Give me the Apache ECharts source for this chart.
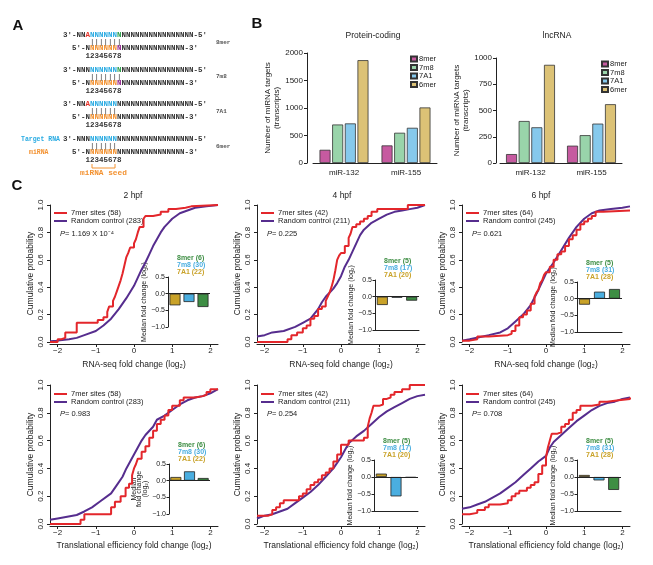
<!DOCTYPE html>
<html>
<head>
<meta charset="utf-8">
<title>miRNA seed sites</title>
</head>
<body style="margin:0;padding:0;background:#fff;">
<div id="main" style="width:653px;height:565px;"></div>
<script src="https://cdn.jsdelivr.net/npm/echarts@6.0.0/dist/echarts.min.js"></script>
<script>
// ---- data ----
var siteTypes = ['8mer', '7m8', '7A1', '6mer'];
var mirnas = ['miR-132', 'miR-155'];

// panel B, number of targets per miRNA
var coding8mer = [240, 320];
var coding7m8 = [700, 550];
var coding7A1 = [720, 640];
var coding6mer = [1870, 1010];
var lnc8mer = [85, 165];
var lnc7m8 = [400, 265];
var lnc7A1 = [340, 375];
var lnc6mer = [935, 560];

// panel C, cumulative curves [log2 fold change, cumulative probability]
var rna2Sites = [[-2.2,0],[-2.0,0.02],[-1.9,0.03],[-1.8,0.07],[-1.5,0.14],[-0.95,0.16],[-0.8,0.18],[-0.7,0.22],[-0.65,0.26],[-0.55,0.3],[-0.5,0.33],[-0.45,0.37],[-0.4,0.41],[-0.35,0.45],[-0.3,0.5],[-0.25,0.56],[-0.2,0.62],[-0.15,0.65],[-0.1,0.69],[0.0,0.72],[0.05,0.75],[0.1,0.8],[0.15,0.84],[0.25,0.9],[0.3,0.92],[0.5,0.93],[0.7,0.95],[0.9,0.97],[1.1,0.98],[1.35,0.99],[1.5,1.0],[2.2,1.0]];
var rna2Random = [[-2.2,0.005],[-2.0,0.01],[-1.7,0.02],[-1.5,0.03],[-1.3,0.05],[-1.0,0.08],[-0.8,0.12],[-0.6,0.17],[-0.4,0.24],[-0.2,0.32],[0.0,0.41],[0.1,0.47],[0.2,0.53],[0.3,0.58],[0.4,0.64],[0.5,0.7],[0.6,0.75],[0.7,0.8],[0.8,0.84],[0.9,0.87],[1.0,0.9],[1.2,0.94],[1.4,0.96],[1.6,0.98],[1.9,0.99],[2.2,1.0]];
var rna4Sites = [[-2.2,0],[-1.4,0.02],[-1.3,0.05],[-1.15,0.07],[-1.0,0.1],[-0.9,0.12],[-0.8,0.17],[-0.7,0.19],[-0.6,0.24],[-0.5,0.26],[-0.4,0.3],[-0.35,0.33],[-0.3,0.36],[-0.25,0.4],[-0.2,0.45],[-0.15,0.52],[-0.1,0.6],[-0.05,0.63],[0.0,0.65],[0.1,0.7],[0.2,0.76],[0.25,0.79],[0.3,0.84],[0.4,0.86],[0.5,0.88],[0.6,0.9],[0.7,0.92],[0.8,0.95],[0.95,0.97],[1.75,1.0],[2.2,1.0]];
var rna4Random = [[-2.2,0.04],[-2.0,0.05],[-1.8,0.07],[-1.5,0.08],[-1.2,0.11],[-1.0,0.14],[-0.8,0.17],[-0.6,0.24],[-0.5,0.29],[-0.4,0.33],[-0.2,0.39],[-0.1,0.43],[0.0,0.48],[0.1,0.55],[0.2,0.6],[0.3,0.66],[0.4,0.72],[0.5,0.78],[0.6,0.82],[0.8,0.87],[1.0,0.9],[1.2,0.93],[1.4,0.95],[1.6,0.96],[1.8,0.97],[2.0,0.98],[2.2,1.0]];
var rna6Sites = [[-2.2,0.01],[-2.0,0.02],[-1.8,0.04],[-1.5,0.05],[-1.0,0.06],[-0.9,0.08],[-0.8,0.12],[-0.7,0.18],[-0.6,0.2],[-0.5,0.23],[-0.4,0.28],[-0.3,0.33],[-0.25,0.36],[-0.2,0.38],[-0.15,0.43],[-0.1,0.45],[-0.05,0.49],[0.0,0.51],[0.1,0.55],[0.2,0.6],[0.3,0.64],[0.4,0.66],[0.5,0.7],[0.6,0.75],[0.7,0.78],[0.8,0.82],[0.9,0.86],[1.0,0.88],[1.1,0.9],[1.2,0.92],[1.3,0.95],[1.5,0.96],[2.2,0.96]];
var rna6Random = [[-2.2,0.01],[-2.0,0.02],[-1.5,0.05],[-1.2,0.07],[-1.0,0.1],[-0.8,0.15],[-0.6,0.2],[-0.4,0.27],[-0.2,0.38],[0.0,0.5],[0.2,0.58],[0.4,0.67],[0.6,0.76],[0.8,0.84],[1.0,0.9],[1.2,0.94],[1.4,0.96],[1.7,0.97],[2.0,0.98],[2.2,0.99]];
var te2Sites = [[-2.2,0],[-1.4,0.03],[-1.3,0.07],[-0.6,0.12],[-0.5,0.16],[-0.35,0.2],[-0.22,0.26],[-0.13,0.29],[-0.05,0.35],[0.0,0.4],[0.05,0.43],[0.1,0.47],[0.2,0.52],[0.3,0.56],[0.4,0.62],[0.5,0.67],[0.6,0.72],[0.7,0.75],[0.8,0.78],[0.9,0.82],[1.0,0.85],[1.2,0.89],[1.3,0.91],[1.6,0.92],[1.8,0.93],[1.9,0.95],[2.0,0.97],[2.2,0.97]];
var te2Random = [[-2.2,0.03],[-2.0,0.04],[-1.5,0.065],[-1.3,0.09],[-1.1,0.12],[-0.9,0.16],[-0.6,0.22],[-0.45,0.28],[-0.3,0.34],[-0.2,0.4],[-0.1,0.45],[0.0,0.5],[0.1,0.55],[0.2,0.6],[0.3,0.64],[0.5,0.7],[0.6,0.75],[0.8,0.78],[1.0,0.82],[1.2,0.86],[1.4,0.89],[1.6,0.91],[1.8,0.92],[2.0,0.94],[2.2,0.97]];
var te4Sites = [[-2.2,0.06],[-1.9,0.07],[-1.8,0.1],[-1.7,0.12],[-1.6,0.15],[-1.5,0.17],[-1.1,0.2],[-1.0,0.22],[-0.9,0.25],[-0.8,0.28],[-0.7,0.3],[-0.6,0.32],[-0.5,0.35],[-0.4,0.37],[-0.3,0.4],[-0.2,0.45],[-0.1,0.5],[0.0,0.57],[0.2,0.6],[0.6,0.62],[0.7,0.7],[0.75,0.76],[0.8,0.8],[0.85,0.85],[1.0,0.86],[1.1,0.9],[1.2,0.91],[1.3,0.93],[1.4,0.95],[1.6,0.97],[1.8,1.0],[2.2,1.0]];
var te4Random = [[-2.2,0.04],[-2.0,0.06],[-1.8,0.07],[-1.6,0.09],[-1.4,0.11],[-1.2,0.15],[-1.0,0.19],[-0.8,0.23],[-0.6,0.28],[-0.4,0.34],[-0.2,0.4],[0.0,0.48],[0.1,0.53],[0.2,0.58],[0.4,0.63],[0.6,0.67],[0.8,0.72],[1.0,0.77],[1.2,0.81],[1.4,0.84],[1.6,0.87],[1.8,0.9],[2.0,0.92],[2.2,0.93]];
var te6Sites = [[-2.2,0.07],[-2.0,0.08],[-1.8,0.1],[-1.6,0.12],[-1.5,0.14],[-1.2,0.15],[-1.0,0.17],[-0.9,0.2],[-0.8,0.22],[-0.7,0.24],[-0.5,0.26],[-0.4,0.28],[-0.3,0.3],[-0.2,0.36],[-0.1,0.42],[0.0,0.48],[0.05,0.55],[0.1,0.6],[0.15,0.65],[0.3,0.66],[0.4,0.7],[0.5,0.72],[0.6,0.75],[0.7,0.8],[0.8,0.82],[0.9,0.85],[1.2,0.86],[1.4,0.88],[1.6,0.89],[1.9,0.9],[2.2,0.91]];
var te6Random = [[-2.2,0.11],[-2.0,0.12],[-1.8,0.14],[-1.6,0.16],[-1.4,0.19],[-1.2,0.22],[-1.0,0.26],[-0.8,0.3],[-0.6,0.35],[-0.4,0.4],[-0.2,0.45],[0.0,0.49],[0.1,0.55],[0.2,0.59],[0.4,0.64],[0.6,0.69],[0.8,0.74],[1.0,0.78],[1.2,0.82],[1.4,0.85],[1.6,0.87],[1.8,0.88],[2.0,0.9],[2.2,0.91]];

// insets: median fold change, order 7A1, 7m8, 8mer
var insetTypes = ['7A1', '7m8', '8mer'];
var rnaMedian2 = [-0.35, -0.25, -0.4];
var rnaMedian4 = [-0.25, -0.03, -0.12];
var rnaMedian6 = [-0.18, 0.21, 0.29];
var teMedian2 = [0.11, 0.28, 0.08];
var teMedian4 = [0.1, -0.57, -0.02];
var teMedian6 = [0.06, -0.1, -0.38];

var stages = ['2 hpf', '4 hpf', '6 hpf'];
var sitesCount = [58, 42, 64];
var randomCount = [283, 211, 245];
var count8mer = [6, 5, 5];
var count7m8 = [30, 17, 31];
var count7A1 = [22, 20, 28];
var pRna = ['1.169 X 10\u207B\u2074', '0.225', '0.621'];
var pTe = ['0.983', '0.254', '0.708'];
var xTicks = [-2, -1, 0, 1, 2];

// ---- styles ----
var ink = '#222';
var sans = '"Liberation Sans", Arial, sans-serif';
var mono = '"Liberation Mono", "DejaVu Sans Mono", monospace';
var barColors = {'8mer': '#c65aa0', '7m8': '#99d4aa', '7A1': '#86c9ec', '6mer': '#dcc276'};
var insetColors = {'7A1': '#c9a228', '7m8': '#4aaee0', '8mer': '#3e8e44'};
var redLine = '#e3262b';
var purpleLine = '#562d8e';

var myChart = echarts.init(document.getElementById('main'));

var grids = [];
var xAxes = [];
var yAxes = [];
var series = [];
var graphics = [];

function txt(x, y, text, font, color, align, extra) {
    var st = {text: text, font: font, fill: color || ink,
        align: align || 'left', textAlign: align || 'left',
        verticalAlign: 'middle', textVerticalAlign: 'middle'};
    if (extra) { for (var k in extra) st[k] = extra[k]; }
    graphics.push({type: 'text', x: x, y: y, silent: true, style: st});
}

// ---- panel B ----
var bPanels = [
    {title: 'Protein-coding', tx: 373, left: 313, top: 53, width: 124, height: 110, max: 2000, interval: 500, offset: 6, nameGap: 17, legendLeft: 410,
     data: [coding8mer, coding7m8, coding7A1, coding6mer]},
    {title: 'lncRNA', tx: 557, left: 500, top: 58, width: 122, height: 105, max: 1000, interval: 250, offset: 4, nameGap: 22, legendLeft: 601,
     data: [lnc8mer, lnc7m8, lnc7A1, lnc6mer]}
];
var legends = [];
bPanels.forEach(function (b, i) {
    grids.push({left: b.left, top: b.top, width: b.width, height: b.height, outerBoundsMode: 'none'});
    xAxes.push({type: 'category', gridIndex: i, data: mirnas,
        axisLine: {lineStyle: {color: ink, width: 1}}, axisTick: {show: false},
        axisLabel: {fontSize: 8, color: ink, margin: 6, fontFamily: sans}});
    yAxes.push({type: 'value', gridIndex: i, min: 0, max: b.max, interval: b.interval, offset: b.offset,
        axisLine: {show: true, lineStyle: {color: ink, width: 1}},
        axisTick: {show: true, length: 3, lineStyle: {color: ink}},
        axisLabel: {fontSize: 8, color: ink, margin: 4, fontFamily: sans,
            formatter: function (v) { return String(v); }},
        splitLine: {show: false},
        name: 'Number of miRNA targets\n(transcripts)', nameLocation: 'middle', nameGap: b.nameGap,
        nameTextStyle: {fontSize: 8, lineHeight: 9, color: ink, fontFamily: sans}});
    siteTypes.forEach(function (t, j) {
        series.push({type: 'bar', name: t, xAxisIndex: i, yAxisIndex: i, data: b.data[j],
            barWidth: 11, barGap: '15%',
            itemStyle: {color: barColors[t], borderColor: '#333', borderWidth: 0.8}});
    });
    legends.push({data: siteTypes, orient: 'vertical', left: b.legendLeft, top: b.top + 2, padding: 0,
        itemWidth: 6, itemHeight: 5, itemGap: 0.5, icon: 'rect', selectedMode: false,
        textStyle: {fontSize: 7.5, lineHeight: 6, color: ink, fontFamily: sans, padding: [0, 0, 0, -3]}});
    txt(b.tx, 36, b.title, '8.5px ' + sans, ink, 'center');
});

// ---- panel C ----
var cPanels = [
    {sites: rna2Sites, random: rna2Random, median: rnaMedian2, p: pRna[0]},
    {sites: rna4Sites, random: rna4Random, median: rnaMedian4, p: pRna[1]},
    {sites: rna6Sites, random: rna6Random, median: rnaMedian6, p: pRna[2]},
    {sites: te2Sites, random: te2Random, median: teMedian2, p: pTe[0]},
    {sites: te4Sites, random: te4Random, median: teMedian4, p: pTe[1]},
    {sites: te6Sites, random: te6Random, median: teMedian6, p: pTe[2]}
];
var colLeft = [50, 257, 462];
var rowTop = [205, 385];
var rowHeight = [137, 139];
var titleX = [133, 342, 541];
var xNames = ['RNA-seq fold change (log\u2082)', 'Translational efficiency fold change (log\u2082)'];
// inset boxes: left, top, width, height
var insetBox = [[168, 277, 42, 50], [375, 280, 44, 50], [577, 282, 45, 50],
                [169, 464, 41, 50], [374, 460, 44, 51], [577, 460, 44, 51]];
var insetBottomLine = [false, true, true, false, true, true];

cPanels.forEach(function (c, p) {
    var row = p < 3 ? 0 : 1, col = p % 3;
    var gl = colLeft[col], gt = rowTop[row];
    var gi = grids.length;
    grids.push({left: gl, top: gt, width: 168, height: rowHeight[row], outerBoundsMode: 'none'});
    xAxes.push({type: 'value', gridIndex: gi, min: -2.2, max: 2.2, offset: 2,
        axisLine: {show: true, onZero: false, lineStyle: {color: ink, width: 1}},
        axisTick: {show: true, length: 3, customValues: xTicks, lineStyle: {color: ink}},
        axisLabel: {customValues: xTicks, fontSize: 8, color: ink, margin: 3, fontFamily: sans,
            formatter: function (v) { return v < 0 ? '\u2212' + (-v) : String(v); }},
        splitLine: {show: false},
        name: xNames[row], nameLocation: 'middle', nameGap: row === 0 ? 16 : 15,
        nameTextStyle: {fontSize: 8.5, color: ink, fontFamily: sans}});
    yAxes.push({type: 'value', gridIndex: gi, min: 0, max: 1, interval: 0.2,
        axisLine: {show: true, onZero: false, lineStyle: {color: ink, width: 1}},
        axisTick: {show: true, length: 3, lineStyle: {color: ink}},
        axisLabel: {rotate: 90, fontSize: 8, color: ink, margin: 5, fontFamily: sans,
            formatter: function (v) { return v.toFixed(1); }},
        splitLine: {show: false},
        name: 'Cumulative probability', nameLocation: 'middle', nameGap: 15,
        nameTextStyle: {fontSize: 8.5, color: ink, fontFamily: sans}});
    series.push({type: 'line', name: 'random', xAxisIndex: gi, yAxisIndex: gi, data: c.random,
        symbol: 'none', lineStyle: {color: purpleLine, width: 2}, z: 2});
    series.push({type: 'line', name: 'sites', xAxisIndex: gi, yAxisIndex: gi, data: c.sites, step: 'end',
        symbol: 'none', lineStyle: {color: redLine, width: 2}, z: 3});

    if (row === 0) txt(titleX[col], 196, stages[col], '8.5px ' + sans, ink, 'center');

    // legend and p-value
    var ly = gt + (row === 0 ? 8 : 9);
    graphics.push({type: 'line', silent: true, shape: {x1: gl + 4, y1: ly, x2: gl + 17, y2: ly}, style: {stroke: redLine, lineWidth: 2}});
    graphics.push({type: 'line', silent: true, shape: {x1: gl + 4, y1: ly + 8, x2: gl + 17, y2: ly + 8}, style: {stroke: purpleLine, lineWidth: 2}});
    txt(gl + 21, ly, '7mer sites (' + sitesCount[col] + ')', '7.5px ' + sans);
    txt(gl + 21, ly + 8, 'Random control (' + randomCount[col] + ')', '7.5px ' + sans);
    txt(gl + 10, gt + 29, '{i|P}= ' + c.p, '7.5px ' + sans, ink, 'left',
        {rich: {i: {fontStyle: 'italic', font: 'italic 7.5px ' + sans, fill: ink}}});

    // inset
    var b = insetBox[p];
    var ii = grids.length;
    grids.push({left: b[0], top: b[1], width: b[2], height: b[3], outerBoundsMode: 'none'});
    xAxes.push({type: 'category', gridIndex: ii, data: insetTypes, position: 'bottom',
        axisLine: {show: insetBottomLine[p], onZero: false, lineStyle: {color: ink, width: 1}},
        axisTick: {show: false}, axisLabel: {show: false}});
    var multi = (p === 3);
    yAxes.push({type: 'value', gridIndex: ii, min: -1, max: 0.5, interval: 0.5,
        axisLine: {show: true, lineStyle: {color: ink, width: 1}},
        axisTick: {show: true, length: 2.5, lineStyle: {color: ink}},
        axisLabel: {fontSize: 7, color: ink, margin: 3, fontFamily: sans,
            formatter: function (v) { return v < 0 ? '\u2212' + (-v).toFixed(1) : v.toFixed(1); }},
        splitLine: {show: false},
        name: multi ? 'Median\nfold change\n(log\u2082)' : 'Median fold change (log\u2082)',
        nameLocation: 'middle', nameGap: multi ? 20 : 19,
        nameTextStyle: {fontSize: 7, lineHeight: 5.5, color: ink, fontFamily: sans}});
    series.push({type: 'bar', name: 'inset' + p, xAxisIndex: ii, yAxisIndex: ii, barWidth: 11,
        data: c.median.map(function (v, k) {
            return {value: v, itemStyle: {color: insetColors[insetTypes[k]], borderColor: '#222', borderWidth: 0.8}};
        }),
        markLine: {silent: true, symbol: ['none', 'none'], label: {show: false},
            lineStyle: {color: ink, width: 1, type: 'solid'}, data: [{yAxis: 0}]}});
    var lx = b[0] + 9, ty = b[1] - 19;
    txt(lx, ty, '8mer (' + count8mer[col] + ')', 'bold 7px ' + sans, insetColors['8mer']);
    txt(lx, ty + 7, '7m8 (' + count7m8[col] + ')', 'bold 7px ' + sans, insetColors['7m8']);
    txt(lx, ty + 14, '7A1 (' + count7A1[col] + ')', 'bold 7px ' + sans, insetColors['7A1']);
});

// ---- panel A: seed pairing diagrams ----
var monoFont = 'bold 7.5px ' + mono;
var rich = {
    k: {font: monoFont, fill: '#333'},
    r: {font: monoFont, fill: '#e63329'},
    b: {font: monoFont, fill: '#29abe2'},
    g: {font: monoFont, fill: '#2a9d48'},
    o: {font: monoFont, fill: '#f39231'},
    p: {font: monoFont, fill: '#93278f'}
};
var n14 = 'NNNNNNNNNNNNNN', n15 = n14 + 'N', n16 = n15 + 'N', n17 = n16 + 'N';
var seqRows = [
    {label: '8mer', target: "{k|3'-NN}{r|A}{b|NNNNNN}{g|N}{k|" + n16 + "-5'}",
     mirna: "{k|  5'-N}{o|NNNNNN}{p|N}{k|" + n14 + "-3'}", pairs: '      |||||||'},
    {label: '7m8', target: "{k|3'-NNN}{b|NNNNNN}{g|N}{k|" + n16 + "-5'}",
     mirna: "{k|  5'-N}{o|NNNNNN}{p|N}{k|" + n14 + "-3'}", pairs: '      |||||||'},
    {label: '7A1', target: "{k|3'-NN}{r|A}{b|NNNNNN}{k|" + n17 + "-5'}",
     mirna: "{k|  5'-N}{o|NNNNNN}{k|" + n15 + "-3'}", pairs: '      ||||||'},
    {label: '6mer', target: "{k|3'-NNN}{b|NNNNNN}{k|" + n17 + "-5'}",
     mirna: "{k|  5'-N}{o|NNNNNN}{k|" + n15 + "-3'}", pairs: '      ||||||'}
];
seqRows.forEach(function (s, i) {
    var y0 = 35 + i * 34.7;
    txt(63, y0, s.target, monoFont, '#333', 'left', {rich: rich});
    txt(63, y0 + 7, s.pairs, '7.5px ' + mono, '#333');
    txt(63, y0 + 13, s.mirna, monoFont, '#333', 'left', {rich: rich});
    txt(63, y0 + 21, '     12345678', monoFont, '#333');
    txt(216, y0 + 7, s.label, 'bold 6px ' + mono, '#555');
});
txt(21, 139, 'Target RNA', 'bold 6.5px ' + mono, '#29abe2');
txt(29, 152, 'miRNA', 'bold 6.5px ' + mono, '#f39231');
graphics.push({type: 'polyline', silent: true, shape: {points: [[92, 164], [92, 168], [115, 168], [115, 164]]},
    style: {stroke: '#f39231', lineWidth: 1, fill: null}});
txt(103.5, 173, 'miRNA seed', 'bold 7.8px ' + mono, '#f39231', 'center');

// panel letters
txt(18, 26, 'A', 'bold 15px ' + sans, '#111', 'center');
txt(257, 24, 'B', 'bold 15px ' + sans, '#111', 'center');
txt(17, 186, 'C', 'bold 15px ' + sans, '#111', 'center');

var option = {
    backgroundColor: '#fff',
    animation: false,
    grid: grids,
    xAxis: xAxes,
    yAxis: yAxes,
    legend: legends,
    series: series,
    graphic: graphics
};
myChart.setOption(option);
</script>
</body>
</html>
